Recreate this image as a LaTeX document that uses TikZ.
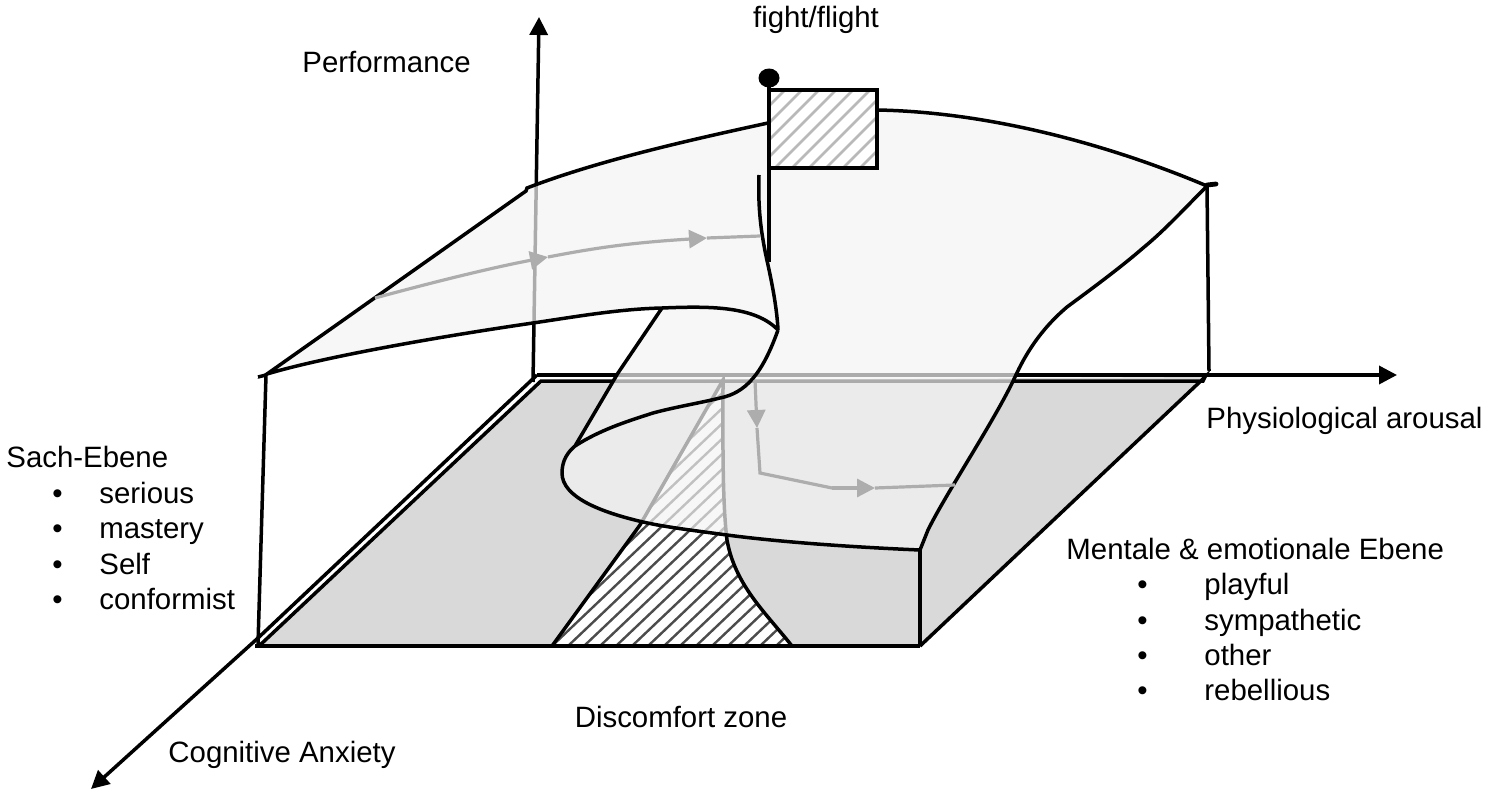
\documentclass[tikz,border=0pt]{standalone}
\usepackage{fontspec}
\setmainfont{Liberation Sans}
\usepackage{tikz}
\usetikzlibrary{arrows.meta}
\definecolor{floorgray}{gray}{0.85}
\definecolor{sheetgray}{gray}{0.955}
\definecolor{flowgray}{gray}{0.68}
\tikzset{
	edge/.style={line width=1.75pt},
	flow/.style={flowgray, line width=1.6pt},
	label/.style={anchor=base west, inner sep=0pt, font=\fontsize{14.7}{17}\selectfont},
}

\begin{document}
\begin{tikzpicture}[x=0.5pt, y=-0.5pt, >={Triangle[length=9pt,width=9pt]}]
	\useasboundingbox (0,0) rectangle (1488,797);
	% floor
	\coordinate (floorLeft) at (259,646);
	\coordinate (floorBack) at (541,381);
	\coordinate (floorRight) at (1205,377);
	\coordinate (floorFront) at (920,646);
	\fill[floorgray] (floorLeft) -- (floorBack) -- (floorRight) -- (floorFront) -- cycle;
	% discomfort zone
	\begin{scope}
		\clip (552,646) -- (640,525) -- (723,380) .. controls (723,430) and (722,500) .. (727,540) .. controls (735,585) and (765,612) .. (792,646) -- cycle;
		\fill[white] (540,370) rectangle (800,650);
		\foreach \xs in {440,456,...,800}
			\draw[black!70, line width=1.2pt] (\xs,646) -- ++(300,-285);
	\end{scope}
	\draw[edge] (552,646) -- (640,525) -- (723,380) .. controls (723,430) and (722,500) .. (727,540) .. controls (735,585) and (765,612) .. (792,646);
	% axes and floor edges
	\coordinate (axisOrigin) at (533,382);
	\coordinate (axisPerf) at (539,17);
	\coordinate (axisStart) at (537,375);
	\coordinate (axisArousal) at (1397,375);
	\coordinate (axisCorner) at (258,638);
	\coordinate (axisAnxiety) at (91,789);
	\draw[edge, ->] (axisOrigin) -- (axisPerf);
	\draw[edge, ->] (axisStart) -- (axisArousal);
	\draw[edge, ->] (axisStart) -- (axisCorner) -- (axisAnxiety);
	\draw[edge] (floorLeft) -- (floorBack) -- (1203,381) -- (floorRight) -- (floorFront);
	\draw[line width=2.2pt] (255,646) -- (floorFront);
	% posts
	\draw[edge] (266,375) -- (258,644);
	\draw[edge] (258,377) -- (266,375);
	\draw[edge] (1207,186) -- (1209,371);
	\draw[line width=2.4pt, line cap=round] (1207,185) -- (1216,184);
	\draw[edge] (920,550) -- (floorFront);
	% surface
	\draw[edge, fill=sheetgray, fill opacity=0.7] (267,374) -- (526,191) -- (527,188)
		.. controls (600,160) and (690,140) .. (768,123)
		.. controls (800,115) and (840,110) .. (877,110)
		.. controls (990,112) and (1110,145) .. (1207,186)
		.. controls (1185,208) and (1165,230) .. (1143,248)
		.. controls (1120,268) and (1090,290) .. (1067,307)
		.. controls (1040,330) and (1025,355) .. (1015,377)
		.. controls (995,420) and (945,495) .. (928,530)
		-- (920,550)
		.. controls (850,547) and (780,542) .. (727,535)
		.. controls (690,530) and (665,527) .. (643,522)
		.. controls (600,512) and (562,497) .. (562,473)
		.. controls (562,460) and (568,452) .. (575,446)
		-- (618,373) -- (662,308)
		.. controls (620,309) and (580,316) .. (533,323)
		.. controls (430,338) and (320,358) .. (267,374) -- cycle;
	% fold
	\draw[edge] (575,446) .. controls (600,430) and (625,422) .. (653,413)
		.. controls (675,407) and (700,403) .. (720,398)
		.. controls (745,393) and (762,375) .. (778,330);
	\draw[edge] (662,308) .. controls (710,306) and (755,306) .. (778,330);
	\draw[edge] (759,175) .. controls (758,205) and (760,230) .. (768,265) .. controls (773,288) and (777,310) .. (778,330);
	% paths over the surface
	\draw[flow, ->] (375,298) .. controls (430,283) and (490,268) .. (548,257);
	\draw[flow, ->] (548,257) .. controls (590,249) and (625,243) .. (707,238);
	\draw[flow] (707,238) -- (760,236);
	\draw[flow, ->] (755,380) -- (757,428);
	\draw[flow] (757,428) -- (760,473) -- (832,488);
	\draw[flow, ->] (832,488) -- (875,488);
	\draw[flow] (875,488) -- (955,485);
	% flag
	\fill[white] (770,90) rectangle (877,168);
	\begin{scope}
		\clip (770,90) rectangle (877,168);
		\foreach \xs in {690,707,...,880}
			\draw[gray!55, line width=1.25pt] (\xs,168) -- ++(78,-78);
	\end{scope}
	\draw[line width=1.9pt] (770,90) -- (877,90) -- (877,168) -- (770,168);
	\draw[line width=2.2pt] (769,80) -- (769,262);
	\fill (769,78) ellipse (10.5 and 9.5);
	% labels
	\node[label, anchor=base] (flightLabel) at (816,28) {fight/flight};
	\node[label] (perfLabel) at (302,73) {Performance};
	\node[label] (arousalLabel) at (1206,428) {Physiological arousal};
	\node[label] (sachLabel) at (6,467) {Sach-Ebene};
	\node[label] (sachA) at (52,503) {•};
	\node[label] (sachB) at (52,538) {•};
	\node[label] (sachC) at (52,574) {•};
	\node[label] (sachD) at (52,609) {•};
	\node[label] (sachSerious) at (99,503) {serious};
	\node[label] (sachMastery) at (99,538) {mastery};
	\node[label] (sachSelf) at (99,574) {Self};
	\node[label] (sachConformist) at (99,609) {conformist};
	\node[label] (mentalLabel) at (1066,559) {Mentale \& emotionale Ebene};
	\node[label] (mentalA) at (1137,594) {•};
	\node[label] (mentalB) at (1137,630) {•};
	\node[label] (mentalC) at (1137,665) {•};
	\node[label] (mentalD) at (1137,700) {•};
	\node[label] (mentalPlayful) at (1204,594) {playful};
	\node[label] (mentalSympathetic) at (1204,630) {sympathetic};
	\node[label] (mentalOther) at (1204,665) {other};
	\node[label] (mentalRebellious) at (1204,700) {rebellious};
	\node[label, anchor=base] (zoneLabel) at (681,727) {Discomfort zone};
	\node[label, anchor=base] (anxietyLabel) at (282,762) {Cognitive Anxiety};
\end{tikzpicture}
\end{document}
